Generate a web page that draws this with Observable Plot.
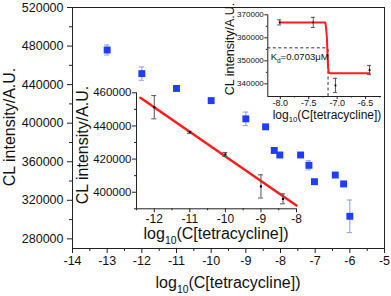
<!DOCTYPE html>
<html><head><meta charset="utf-8">
<script src="https://cdn.jsdelivr.net/npm/d3@7"></script>
<script src="https://cdn.jsdelivr.net/npm/@observablehq/plot@0.6"></script>
<style>
body{margin:0;background:#fff;}
#chart{position:relative;width:391px;height:296px;overflow:hidden;}
#chart svg{position:absolute;}
</style></head><body><div id="chart"></div>
<script>
// ---------- data ----------
// main panel (blue squares)
const mainLogC = [-13, -12, -11, -10, -9, -8.43, -8.18, -8.02, -7.42, -7.18, -7.02, -6.42, -6.18, -6.0];
const mainCL   = [475900, 451400, 436000, 423400, 404500, 396200, 371700, 367000, 367000, 356300, 339300, 346200, 337000, 303400];
const mainErr  = [5200, 6900, 1000, 1000, 7000, 0, 0, 0, 0, 4700, 0, 0, 0, 16900];
const mainXTicks = [-14, -13, -12, -11, -10, -9, -8, -7, -6, -5];
const mainYTicks = [280000, 320000, 360000, 400000, 440000, 480000, 520000];

// lower-left inset (linear range)
const linLogC = [-12, -11, -10, -9, -8.38];
const linCL   = [451300, 436200, 422800, 403500, 396000];
const linErr  = [7000, 600, 1200, 7000, 3000];
const fitLogC = [-12.39, -8.0];
const fitCL   = [457000, 392000];
const linXTicks = [-12, -11, -10, -9, -8];
const linYTicks = [400000, 420000, 440000, 460000];

// upper-right inset (Kd)
const kdLogC = [-8.01, -7.42, -7.03, -6.43];
const kdCL   = [366700, 366700, 339300, 346000];
const kdErr  = [1100, 2200, 3100, 2000];
const sigLogC = [-8.01, -7.21, -7.195, -7.18, -7.17, -7.16, -7.15, -7.13, -6.43];
const sigCL   = [366700, 366700, 364500, 360000, 353000, 347500, 345000, 344600, 344600];
const kdLog = -7.16;
const halfCL = 355650;
const kdText = "Kd=0.0703μM";
const kdTextPos = {x: -8.17, y: 351600};
const kdXTicks = [-8.0, -7.5, -7.0, -6.5];
const kdYTicks = [340000, 350000, 360000, 370000];

// ---------- build tables ----------
const rows = (xs, ys, es) => xs.map((x, i) => ({x, y: ys[i], e: es ? es[i] : 0}));
const mainData = rows(mainLogC, mainCL, mainErr);
const linData = rows(linLogC, linCL, linErr);
const fitData = rows(fitLogC, fitCL);
const kdData = rows(kdLogC, kdCL, kdErr);
const sigData = rows(sigLogC, sigCL);

const FONT = "'Liberation Sans', Arial, Helvetica, sans-serif";
const INK = "#222";
const BLUE = "#1f3cff";
const EBLUE = "#8d9cf0";
const RED = "#ff1c1c";
const num = d => String(d);
const halfSteps = (a, b, step) => d3.range(a, b + 1e-9, step);

function errMarks(data, color, capHalf, width) {
  const d = data.filter(r => r.e > 0);
  return [
    Plot.ruleX(d, {x: "x", y1: r => r.y - r.e, y2: r => r.y + r.e, stroke: color, strokeWidth: width}),
    Plot.ruleY(d, {y: r => r.y + r.e, x1: r => r.x - capHalf, x2: r => r.x + capHalf, stroke: color, strokeWidth: width}),
    Plot.ruleY(d, {y: r => r.y - r.e, x1: r => r.x - capHalf, x2: r => r.x + capHalf, stroke: color, strokeWidth: width})
  ];
}

function addLabel(svg, x, y, size, rotate, before, sub, after) {
  const t = d3.select(svg).append("text")
    .attr("transform", `translate(${x},${y})` + (rotate ? " rotate(-90)" : ""))
    .attr("text-anchor", "middle")
    .attr("font-size", size)
    .attr("font-family", FONT)
    .attr("fill", "#111");
  t.append("tspan").text(before);
  if (sub) {
    t.append("tspan").attr("font-size", size * 0.65).attr("dy", size * 0.3).text(sub);
    t.append("tspan").attr("dy", -size * 0.3).text(after);
  }
}

const chart = document.getElementById("chart");

// ---------- main panel ----------
const main = Plot.plot({
  width: 391, height: 296,
  marginLeft: 72, marginRight: 7, marginTop: 7, marginBottom: 48,
  style: {background: "transparent", fontFamily: FONT, fontSize: "12.5px", color: INK},
  x: {domain: [-14, -5], axis: null},
  y: {domain: [270000, 520000], axis: null},
  marks: [
    Plot.frame({stroke: INK}),
    Plot.axisX(mainXTicks, {anchor: "bottom", label: null, tickSize: 5, tickPadding: 3, tickFormat: num, fontSize: 12.5, stroke: INK, fill: "#111"}),
    Plot.axisX(halfSteps(-13.5, -5.5, 1), {anchor: "bottom", label: null, tickSize: 3, tickFormat: () => "", stroke: INK}),
    Plot.axisY(mainYTicks, {anchor: "left", label: null, tickSize: 5, tickPadding: 4, tickFormat: num, fontSize: 12.5, stroke: INK, fill: "#111"}),
    Plot.axisY(halfSteps(300000, 500000, 40000), {anchor: "left", label: null, tickSize: 3, tickFormat: () => "", stroke: INK}),
    ...errMarks(mainData, EBLUE, 0.075, 1),
    Plot.dot(mainData, {x: "x", y: "y", symbol: "square", r: 3.9, fill: BLUE, stroke: "none"})
  ]
});
main.style.left = "0px"; main.style.top = "0px";
chart.appendChild(main);
addLabel(main, 228, 288, 16, false, "log", "10", "(C[tetracycline])");
addLabel(main, 15, 127, 16, true, "CL intensity/A.U.");

// ---------- lower-left inset ----------
const ins1 = Plot.plot({
  width: 232, height: 163,
  marginLeft: 62, marginRight: 10, marginTop: 10.3, marginBottom: 36.7,
  style: {background: "transparent", fontFamily: FONT, fontSize: "12px", color: INK},
  x: {domain: [-12.5, -8], axis: null},
  y: {domain: [390000, 460000], axis: null},
  marks: [
    Plot.ruleX([-12.5], {stroke: INK}),
    Plot.ruleY([390000], {stroke: INK}),
    Plot.axisX(linXTicks, {anchor: "bottom", label: null, tickSize: 4, tickPadding: 2, tickFormat: num, fontSize: 12, stroke: INK, fill: "#111"}),
    Plot.axisX(halfSteps(-12.5, -8.5, 1), {anchor: "bottom", label: null, tickSize: 2, tickFormat: () => "", stroke: INK}),
    Plot.axisY(linYTicks, {anchor: "left", label: null, tickSize: 4, tickPadding: 1, tickFormat: num, fontSize: 11.5, stroke: INK, fill: "#111"}),
    Plot.axisY(halfSteps(390000, 450000, 20000), {anchor: "left", label: null, tickSize: 2, tickFormat: () => "", stroke: INK}),
    Plot.line(fitData, {x: "x", y: "y", stroke: RED, strokeWidth: 2.5}),
    ...errMarks(linData, "#555", 0.07, 1),
    Plot.dot(linData, {x: "x", y: "y", symbol: "square", r: 1.2, fill: "#000", stroke: "none"})
  ]
});
ins1.style.left = "74px"; ins1.style.top = "82px";
chart.appendChild(ins1);
addLabel(ins1, 142, 157, 16, false, "log", "10", "(C[tetracycline])");
addLabel(ins1, 14, 63, 16, true, "CL intensity/A.U.");

// ---------- upper-right inset ----------
const ins2 = Plot.plot({
  width: 169, height: 124,
  marginLeft: 45.3, marginRight: 10, marginTop: 14.3, marginBottom: 28,
  style: {background: "transparent", fontFamily: FONT, fontSize: "9px", color: INK},
  x: {domain: [-8.22, -6.22], axis: null},
  y: {domain: [334500, 370000], axis: null},
  marks: [
    Plot.ruleX([-8.22], {stroke: INK}),
    Plot.ruleY([334500], {stroke: INK}),
    Plot.axisX(kdXTicks, {anchor: "bottom", label: null, tickSize: 3, tickPadding: 0, tickFormat: d => d.toFixed(1), fontSize: 9, stroke: INK, fill: "#111"}),
    Plot.axisX(halfSteps(-7.75, -6.25, 0.5), {anchor: "bottom", label: null, tickSize: 1.5, tickFormat: () => "", stroke: INK}),
    Plot.axisY(kdYTicks, {anchor: "left", label: null, tickSize: 3, tickPadding: 1, tickFormat: num, fontSize: 8, stroke: INK, fill: "#111"}),
    Plot.axisY(halfSteps(345000, 365000, 10000), {anchor: "left", label: null, tickSize: 1.5, tickFormat: () => "", stroke: INK}),
    Plot.ruleY([halfCL], {x1: -8.22, x2: kdLog, stroke: "#333", strokeDasharray: "3,2.5"}),
    Plot.ruleX([kdLog], {y1: 334500, y2: halfCL, stroke: "#333", strokeDasharray: "3,2.5"}),
    Plot.line(sigData, {x: "x", y: "y", stroke: RED, strokeWidth: 2}),
    ...errMarks(kdData, "#555", 0.035, 1),
    Plot.dot(kdData, {x: "x", y: "y", symbol: "square", r: 1, fill: "#000", stroke: "none"}),
    Plot.text([kdTextPos], {x: "x", y: "y", text: () => kdText, textAnchor: "start", fontSize: 9.5, fill: "#111"})
  ]
});
ins2.style.left = "222px"; ins2.style.top = "0px";
chart.appendChild(ins2);
addLabel(ins2, 105, 118.5, 12, false, "log", "10", "(C[tetracycline])");
addLabel(ins2, 12, 49, 12.5, true, "CL intensity/A.U.");

// subscript "d" in the Kd annotation
d3.select(ins2).selectAll("text").filter(function () { return this.textContent === kdText; })
  .each(function () {
    const t = d3.select(this);
    t.text(null);
    t.append("tspan").text("K");
    t.append("tspan").attr("font-size", 6.5).attr("dy", 2.5).text("d");
    t.append("tspan").attr("dy", -2.5).text("=0.0703μM");
  });
</script></body></html>
